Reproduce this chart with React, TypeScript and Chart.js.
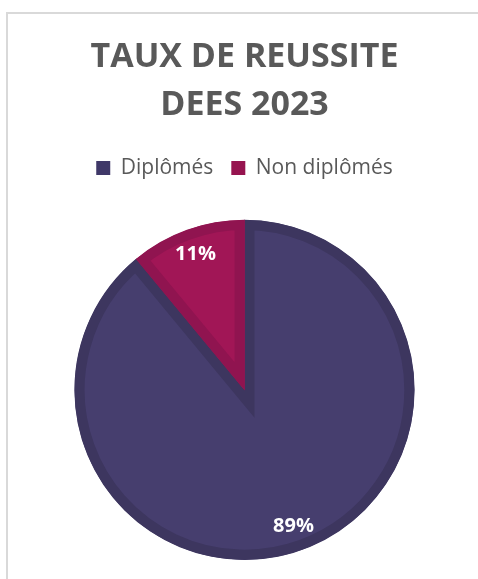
import React, { useEffect, useRef } from "react";
import { Chart, registerables } from "chart.js";

Chart.register(...registerables);

const titleLines = ["TAUX DE REUSSITE", "DEES 2023"];
const categories = ["Diplômés", "Non diplômés"];
const values = [89, 11];
const fillColors = ["#463e6e", "#a11656"];
const borderColors = ["#3d365f", "#901450"];
const legendColors = ["#3f3868", "#96144f"];

const labelPlugin = {
  id: "sliceLabels",
  afterDatasetsDraw(chart: any) {
    const ctx = chart.ctx;
    const meta = chart.getDatasetMeta(0);
    const data = chart.data.datasets[0].data as number[];
    const total = data.reduce((a, b) => a + b, 0);
    ctx.save();
    ctx.fillStyle = "#ffffff";
    ctx.font = "bold 20px 'Open Sans'";
    ctx.textAlign = "center";
    ctx.textBaseline = "middle";
    meta.data.forEach((arc: any, i: number) => {
      const p = arc.getProps(["x", "y", "startAngle", "endAngle", "outerRadius"], true);
      const mid = (p.startAngle + p.endAngle) / 2;
      const r = p.outerRadius * 0.85;
      const pct = Math.round((data[i] / total) * 100) + "%";
      ctx.fillText(pct, p.x + Math.cos(mid) * r, p.y + Math.sin(mid) * r);
    });
    ctx.restore();
  },
};

export default function App() {
  const ref = useRef<HTMLCanvasElement>(null);
  useEffect(() => {
    if (!ref.current) return;
    const chart = new Chart(ref.current, {
      type: "pie",
      data: {
        labels: categories,
        datasets: [
          {
            data: values,
            backgroundColor: fillColors,
            borderColor: borderColors,
            borderWidth: 10,
            borderAlign: "inner",
            borderJoinStyle: "miter",
          } as any,
        ],
      },
      options: {
        animation: false,
        responsive: false,
        maintainAspectRatio: false,
        layout: { padding: { top: 0, bottom: 19, left: 0, right: 0 } },
        plugins: {
          title: {
            display: true,
            text: titleLines,
            color: "#595959",
            font: { family: "'Open Sans'", size: 34, weight: "bold", lineHeight: 1.42 },
            padding: { top: 19, bottom: 10 },
          },
          legend: {
            display: true,
            position: "top",
            labels: {
              color: "#595959",
              font: { family: "'Open Sans'", size: 21 },
              boxWidth: 14,
              boxHeight: 14,
              padding: 18,
              generateLabels: () =>
                categories.map((t, i) => ({
                  text: t,
                  fillStyle: legendColors[i],
                  strokeStyle: legendColors[i],
                  lineWidth: 0,
                  fontColor: "#595959",
                  hidden: false,
                  index: i,
                })),
            },
          },
          subtitle: {
            display: true,
            text: "",
            weight: 500,
            font: { size: 16, lineHeight: 1.95 },
            padding: 0,
          } as any,
          tooltip: { enabled: false },
        },
      },
      plugins: [labelPlugin],
    });
    return () => chart.destroy();
  }, []);
  return (
    <div style={{ position: "fixed", left: 0, top: 0, width: 478, height: 579, overflow: "hidden", background: "#fff" }}>
      <div
        style={{
          position: "absolute",
          left: 6,
          top: 12,
          width: 500,
          height: 600,
          border: "2px solid #d9d9d9",
          boxSizing: "border-box",
        }}
      />
      <canvas
        ref={ref}
        width={471}
        height={565}
        style={{ position: "absolute", left: 9, top: 14, width: 471, height: 565 }}
      />
    </div>
  );
}
